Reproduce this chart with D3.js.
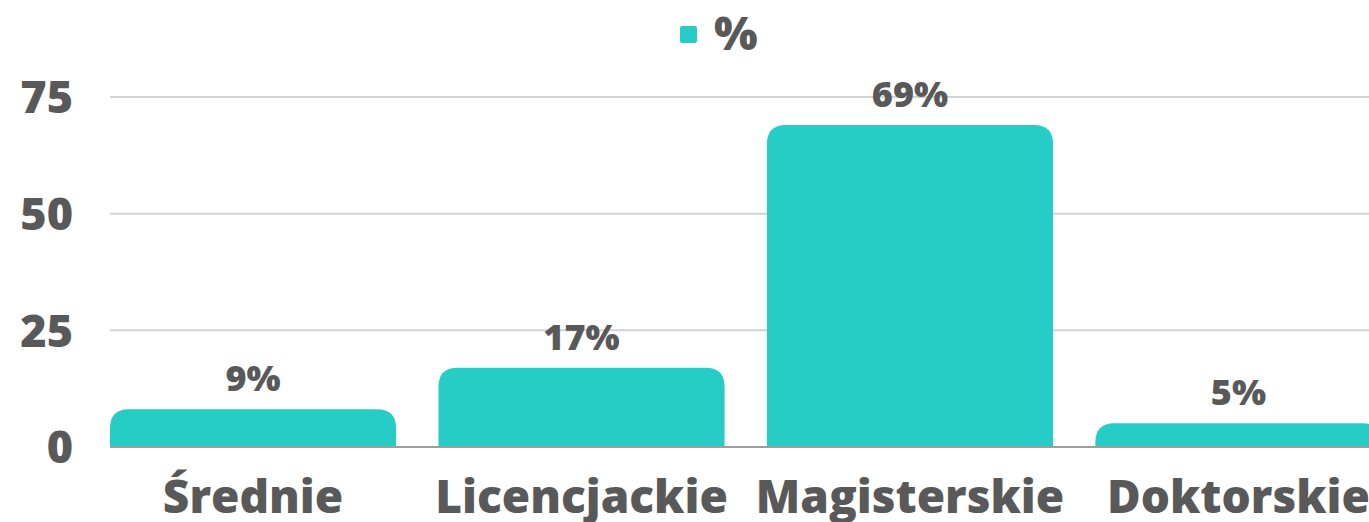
<!DOCTYPE html>
<html><head><meta charset="utf-8">
<script src="https://cdn.jsdelivr.net/npm/d3@7"></script>
<style>html,body{margin:0;padding:0;background:#fff;overflow:hidden}svg{display:block;font-family:"Open Sans",sans-serif;font-weight:800}</style>
</head><body>
<svg id="c" width="1369" height="522"></svg>
<script>
const categories = ["Średnie", "Licencjackie", "Magisterskie", "Doktorskie"];
const values = [8.1, 17, 69, 5.1];
const valueLabels = ["9%", "17%", "69%", "5%"];
const seriesName = "%";
const yTicks = [0, 25, 50, 75];

const color = "#26CDC6", text = "#595959";
const svg = d3.select("#c");
const W = 1369;
const x = d3.scaleBand().domain(categories).range([110, 1381.5]).paddingInner(0.129).paddingOuter(0);
const y = d3.scaleLinear().domain([0, 75]).range([447, 97]);

// grid
svg.append("g").selectAll("line").data(yTicks.filter(d => d !== 0)).join("line")
  .attr("x1", 110).attr("x2", W).attr("y1", d => y(d)).attr("y2", d => y(d))
  .attr("stroke", "#d3d3d3").attr("stroke-width", 2);

// y labels
svg.append("g").selectAll("text").data(yTicks).join("text")
  .attr("x", 73).attr("y", d => y(d)).attr("dy", "0.36em").attr("text-anchor", "end")
  .attr("font-size", 45).attr("fill", text).text(d => d);

// bars with rounded tops
const r = 19;
function barPath(d, i) {
  const x0 = x(categories[i]), w = x.bandwidth(), y0 = y(0), y1 = y(d);
  const rr = Math.min(r, (y0 - y1), w / 2);
  return `M${x0},${y0}V${y1 + rr}Q${x0},${y1} ${x0 + rr},${y1}H${x0 + w - rr}Q${x0 + w},${y1} ${x0 + w},${y1 + rr}V${y0}Z`;
}
svg.append("g").selectAll("path").data(values).join("path")
  .attr("d", barPath).attr("fill", color);

// baseline
svg.append("line").attr("x1", 110).attr("x2", W).attr("y1", y(0)).attr("y2", y(0))
  .attr("stroke", "#9e9e9e").attr("stroke-width", 2);

// value labels
svg.append("g").selectAll("text").data(values).join("text")
  .attr("x", (d, i) => x(categories[i]) + x.bandwidth() / 2)
  .attr("y", d => y(d) - 18).attr("text-anchor", "middle")
  .attr("font-size", 36).attr("fill", text).text((d, i) => valueLabels[i]);

// category labels
svg.append("g").selectAll("text").data(categories).join("text")
  .attr("x", d => x(d) + x.bandwidth() / 2).attr("y", 513).attr("text-anchor", "middle")
  .attr("font-size", 46).attr("fill", text).text(d => d);

// legend
svg.append("rect").attr("x", 680).attr("y", 26).attr("width", 17).attr("height", 17).attr("rx", 2).attr("fill", color);
svg.append("text").attr("x", 714).attr("y", 50).attr("font-size", 46).attr("fill", text).text(seriesName);
</script>
</body></html>
